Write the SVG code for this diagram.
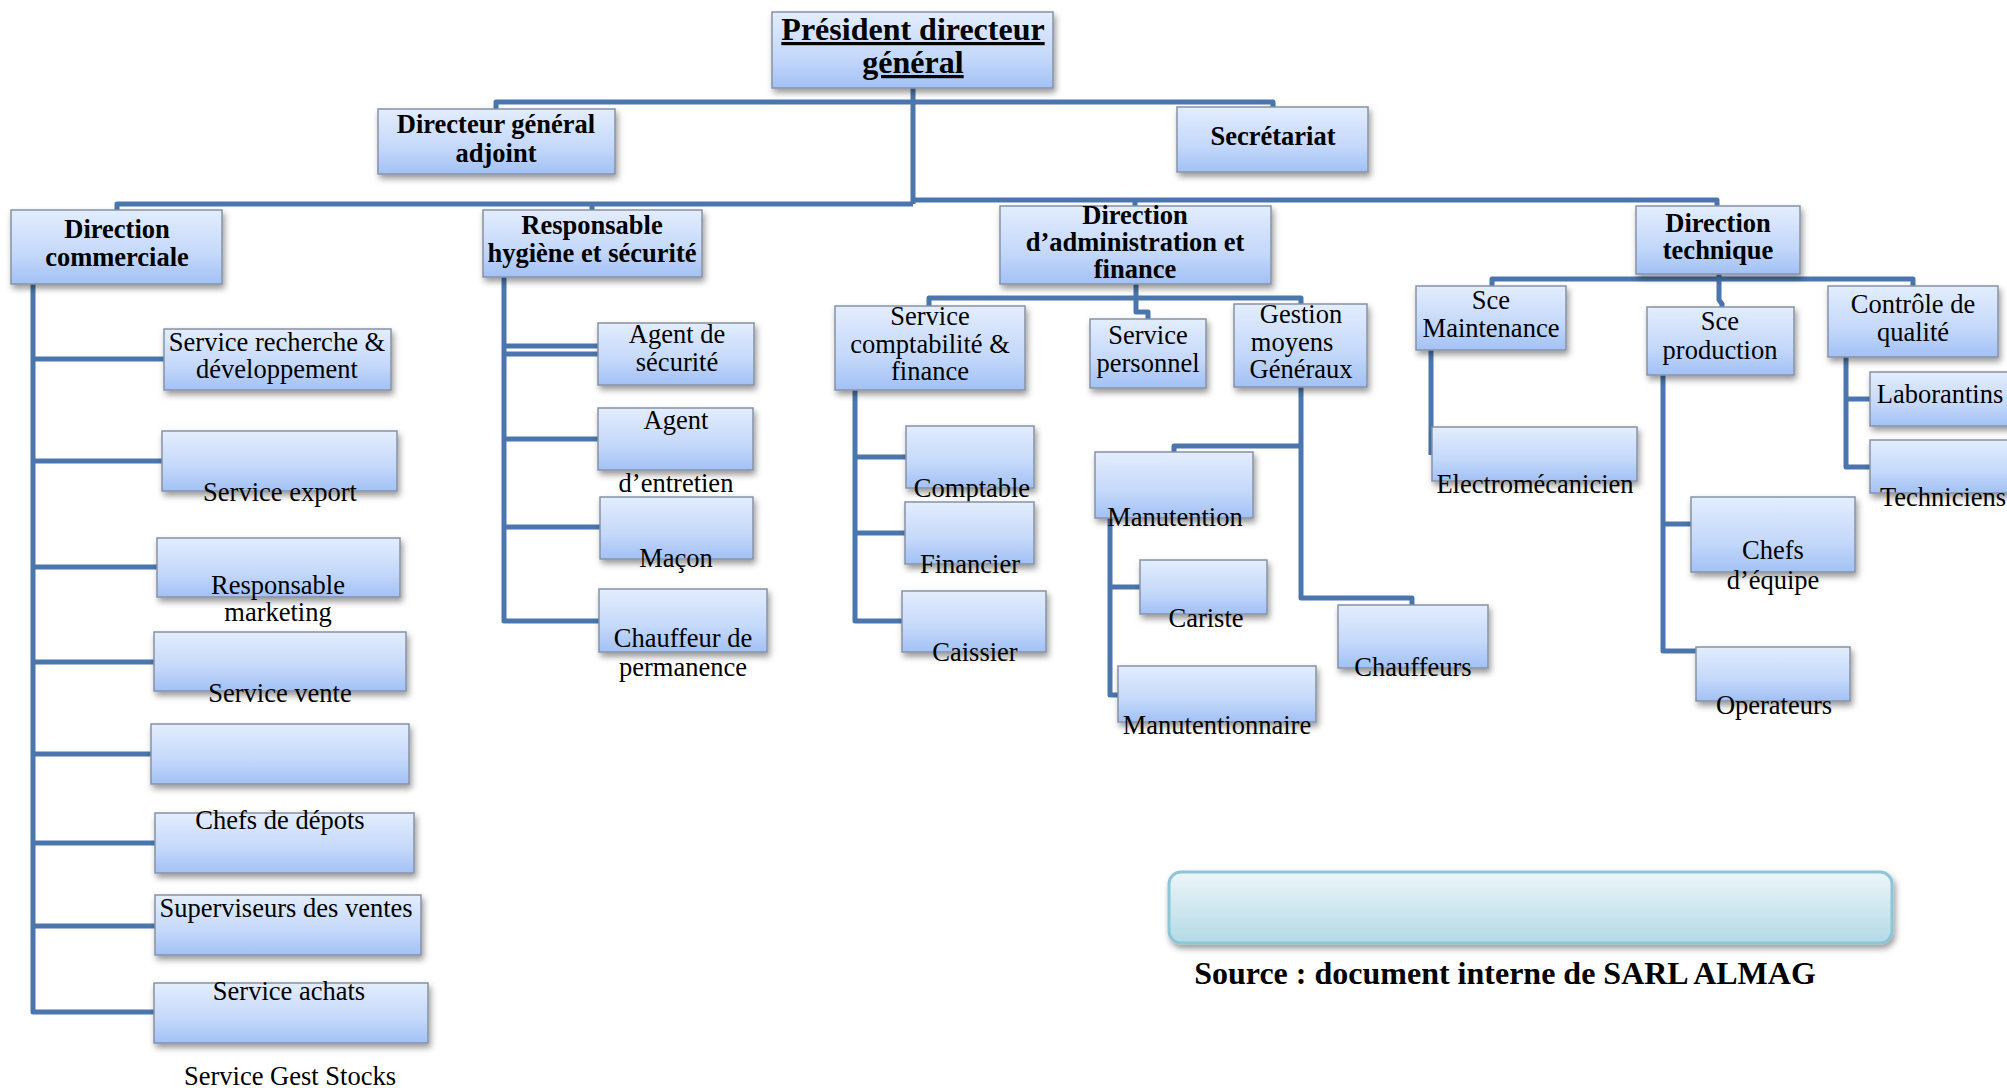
<svg xmlns="http://www.w3.org/2000/svg" width="2007" height="1088" viewBox="0 0 2007 1088">
<defs>
<linearGradient id="g" x1="0" y1="0" x2="0" y2="1">
<stop offset="0" stop-color="#e3edfd"/>
<stop offset="0.6" stop-color="#c4d8fa"/>
<stop offset="1" stop-color="#a2c1f5"/>
</linearGradient>
<linearGradient id="gs" x1="0" y1="0" x2="0" y2="1">
<stop offset="0" stop-color="#ecf6f9"/>
<stop offset="1" stop-color="#b3dae6"/>
</linearGradient>
<filter id="sh" x="-10%" y="-10%" width="130%" height="140%">
<feDropShadow dx="2" dy="4" stdDeviation="3" flood-color="#000" flood-opacity="0.4"/>
</filter>
</defs>
<style>
.box{fill:url(#g);stroke:#8792a5;stroke-width:1.5;filter:url(#sh)}
.src{fill:url(#gs);stroke:#8cc6d8;stroke-width:3;filter:url(#sh)}
.c{fill:none;stroke:#4a76ad;stroke-width:5;stroke-linejoin:round}
.t{font-family:"Liberation Serif","Times New Roman",serif;font-size:26.5px;text-anchor:middle;fill:#000}
.b{font-weight:bold}
.big{font-size:32px}
.u{text-decoration:underline;text-decoration-thickness:3px;text-underline-offset:7px}
</style>
<rect width="2007" height="1088" fill="#fff"/>

<g id="connectors">
<path class="c" d="M913 88V204"/>
<path class="c" d="M496 109V102H1273V107"/>
<path class="c" d="M117 210V204H913"/>
<path class="c" d="M592 210V204"/>
<path class="c" d="M913 200H1717V206"/>
<path class="c" d="M1135 200V206"/>
<!-- commerciale -->
<path class="c" d="M33 284V1012H154"/>
<path class="c" d="M33 359H164M33 461H162M33 567H157M33 662H154M33 754H151M33 843H155M33 926H155"/>
<!-- hygiene -->
<path class="c" d="M504 277V621H599"/>
<path class="c" d="M504 346H605M504 354H598M504 439H598M504 527H600"/>
<!-- admin -->
<path class="c" d="M1136 284V312H1148V319"/>
<path class="c" d="M929 306V298H1301V304"/>
<path class="c" d="M855 390V621H902"/>
<path class="c" d="M855 457H906M855 533H905"/>
<path class="c" d="M1301 387V598H1412V605"/>
<path class="c" d="M1301 446H1174V452"/>
<path class="c" d="M1110 518V695H1118M1110 587H1140"/>
<!-- technique -->
<path class="c" d="M1719 274V300L1722 304V307"/>
<path class="c" d="M1492 286V279H1913V286"/>
<path class="c" d="M1431 350V455"/>
<path class="c" d="M1663 375V651H1696M1663 524H1691"/>
<path class="c" d="M1846 357V467H1870M1846 399H1870"/>
</g>

<g id="pdg"><rect class="box" x="772" y="12" width="281" height="76"/>
<text class="t b u big" x="913" y="40">Président directeur</text>
<text class="t b u big" x="913" y="73">général</text></g>

<g id="dga"><rect class="box" x="378" y="109" width="237" height="65"/>
<text class="t b" x="496" y="133">Directeur général</text>
<text class="t b" x="496" y="162">adjoint</text></g>

<g id="secretariat"><rect class="box" x="1177" y="107" width="191" height="65"/>
<text class="t b" x="1273" y="145">Secrétariat</text></g>

<g id="dir-commerciale"><rect class="box" x="11" y="210" width="211" height="74"/>
<text class="t b" x="117" y="238">Direction</text>
<text class="t b" x="117" y="266">commerciale</text></g>

<g id="resp-hygiene"><rect class="box" x="483" y="210" width="219" height="67"/>
<text class="t b" x="592" y="234">Responsable</text>
<text class="t b" x="592" y="262">hygiène et sécurité</text></g>

<g id="dir-admin"><rect class="box" x="1000" y="206" width="271" height="78"/>
<text class="t b" x="1135" y="224">Direction</text>
<text class="t b" x="1135" y="251">d’administration et</text>
<text class="t b" x="1135" y="278">finance</text></g>

<g id="dir-technique"><rect class="box" x="1636" y="206" width="164" height="68"/>
<text class="t b" x="1718" y="232">Direction</text>
<text class="t b" x="1718" y="259">technique</text></g>

<!-- commerciale children -->
<g id="rd"><rect class="box" x="164" y="329" width="227" height="61"/>
<text class="t" x="277" y="351">Service recherche &amp;</text>
<text class="t" x="277" y="378">développement</text></g>
<g id="export"><rect class="box" x="162" y="431" width="235" height="60"/>
<text class="t" x="280" y="501">Service export</text></g>
<g id="marketing"><rect class="box" x="157" y="538" width="243" height="59"/>
<text class="t" x="278" y="594">Responsable</text>
<text class="t" x="278" y="621">marketing</text></g>
<g id="vente"><rect class="box" x="154" y="632" width="252" height="59"/>
<text class="t" x="280" y="702">Service vente</text></g>
<g id="vide"><rect class="box" x="151" y="724" width="258" height="60"/></g>
<g id="chefs-depots"><rect class="box" x="155" y="813" width="259" height="60"/>
<text class="t" x="280" y="829">Chefs de dépots</text></g>
<g id="superviseurs"><rect class="box" x="155" y="895" width="266" height="60"/>
<text class="t" x="286" y="917">Superviseurs des ventes</text></g>
<g id="achats"><rect class="box" x="154" y="983" width="274" height="60"/>
<text class="t" x="289" y="1000">Service achats</text></g>
<g id="gest-stocks"><text class="t" x="290" y="1085">Service Gest Stocks</text></g>

<!-- hygiene children -->
<g id="agent-securite"><rect class="box" x="598" y="323" width="156" height="62"/>
<text class="t" x="677" y="343">Agent de</text>
<text class="t" x="677" y="371">sécurité</text></g>
<g id="agent-entretien"><rect class="box" x="598" y="408" width="155" height="62"/>
<text class="t" x="676" y="429">Agent</text>
<text class="t" x="676" y="492">d’entretien</text></g>
<g id="macon"><rect class="box" x="600" y="497" width="153" height="62"/>
<text class="t" x="676" y="567">Maçon</text></g>
<g id="chauffeur-perm"><rect class="box" x="599" y="589" width="168" height="63"/>
<text class="t" x="683" y="647">Chauffeur de</text>
<text class="t" x="683" y="676">permanence</text></g>

<!-- admin children -->
<g id="compta"><rect class="box" x="835" y="306" width="190" height="84"/>
<text class="t" x="930" y="325">Service</text>
<text class="t" x="930" y="353">comptabilité &amp;</text>
<text class="t" x="930" y="380">finance</text></g>
<g id="personnel"><rect class="box" x="1090" y="319" width="116" height="69"/>
<text class="t" x="1148" y="344">Service</text>
<text class="t" x="1148" y="372">personnel</text></g>
<g id="gestion"><rect class="box" x="1234" y="304" width="133" height="83"/>
<text class="t" x="1301" y="323">Gestion</text>
<text class="t" x="1292" y="351">moyens</text>
<text class="t" x="1301" y="378">Généraux</text></g>
<g id="comptable"><rect class="box" x="906" y="426" width="128" height="62"/>
<text class="t" x="972" y="497">Comptable</text></g>
<g id="financier"><rect class="box" x="905" y="502" width="129" height="62"/>
<text class="t" x="970" y="573">Financier</text></g>
<g id="caissier"><rect class="box" x="902" y="591" width="144" height="61"/>
<text class="t" x="975" y="661">Caissier</text></g>
<g id="manutention"><rect class="box" x="1095" y="452" width="158" height="66"/>
<text class="t" x="1175" y="526">Manutention</text></g>
<g id="cariste"><rect class="box" x="1140" y="560" width="127" height="54"/>
<text class="t" x="1206" y="627">Cariste</text></g>
<g id="manutentionnaire"><rect class="box" x="1118" y="666" width="198" height="56"/>
<text class="t" x="1217" y="734">Manutentionnaire</text></g>
<g id="chauffeurs"><rect class="box" x="1338" y="605" width="150" height="63"/>
<text class="t" x="1413" y="676">Chauffeurs</text></g>

<!-- technique children -->
<g id="maintenance"><rect class="box" x="1416" y="286" width="150" height="64"/>
<text class="t" x="1491" y="309">Sce</text>
<text class="t" x="1491" y="337">Maintenance</text></g>
<g id="production"><rect class="box" x="1647" y="307" width="147" height="68"/>
<text class="t" x="1720" y="330">Sce</text>
<text class="t" x="1720" y="359">production</text></g>
<g id="qualite"><rect class="box" x="1828" y="286" width="170" height="71"/>
<text class="t" x="1913" y="313">Contrôle de</text>
<text class="t" x="1913" y="341">qualité</text></g>
<g id="electro"><rect class="box" x="1432" y="427" width="205" height="54"/>
<text class="t" x="1535" y="493">Electromécanicien</text></g>
<g id="chefs-equipe"><rect class="box" x="1691" y="497" width="164" height="75"/>
<text class="t" x="1773" y="559">Chefs</text>
<text class="t" x="1773" y="589">d’équipe</text></g>
<g id="operateurs"><rect class="box" x="1696" y="647" width="154" height="54"/>
<text class="t" x="1774" y="714">Operateurs</text></g>
<g id="laborantins"><rect class="box" x="1870" y="372" width="150" height="54"/>
<text class="t" x="1940" y="403">Laborantins</text></g>
<g id="techniciens"><rect class="box" x="1870" y="440" width="150" height="53"/>
<text class="t" x="1943" y="506">Techniciens</text></g>

<g id="source"><rect class="src" x="1169" y="872" width="723" height="71" rx="12"/>
<text class="t b big" x="1505" y="984">Source : document interne de SARL ALMAG</text></g>
</svg>
